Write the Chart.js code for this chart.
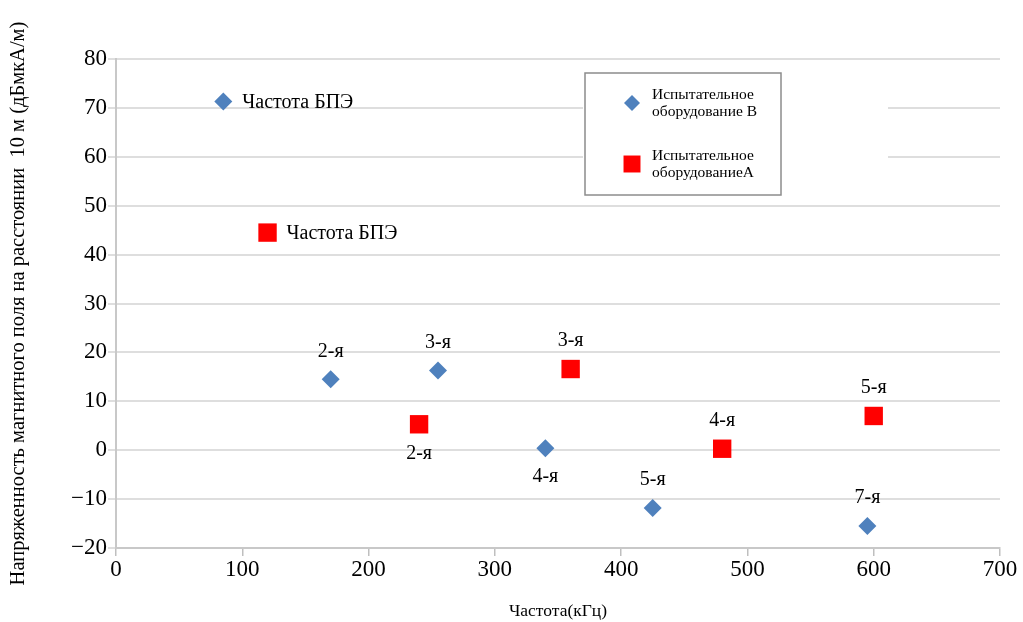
<!DOCTYPE html>
<html>
<head>
<meta charset="utf-8">
<script src="https://cdn.jsdelivr.net/npm/chart.js@4"></script>
<style>
  html, body { margin: 0; padding: 0; background: #fff; }
  #wrap { width: 1023px; height: 622px; }
</style>
</head>
<body>
<div id="wrap"><canvas id="scatterChart"></canvas></div>
<script>
const FONT = "'Liberation Serif', 'Times New Roman', serif";

// series B (blue diamonds)
const freqB = [85, 170, 255, 340, 425, 595];
const fieldB = [71.3, 14.5, 16.3, 0.4, -11.8, -15.5];
const notesB = ["Частота БПЭ", "2-я", "3-я", "4-я", "5-я", "7-я"];
const placeB = ["right", "above", "above", "below", "above", "above"];

// series A (red squares)
const freqA = [120, 240, 360, 480, 600];
const fieldA = [44.5, 5.3, 16.6, 0.3, 7.0];
const notesA = ["Частота БПЭ", "2-я", "3-я", "4-я", "5-я"];
const placeA = ["right", "below", "above", "above", "above"];

const legendNames = ["Испытательное\nоборудование B", "Испытательное\nоборудованиеA"];
const xTicks = [0, 100, 200, 300, 400, 500, 600, 700];
const yTicks = [-20, -10, 0, 10, 20, 30, 40, 50, 60, 70, 80];

const BLUE = "#4f81bd";
const RED = "#ff0000";

const toPoints = (xs, ys) => xs.map((x, i) => ({ x: x, y: ys[i] }));

// text next to the points
const pointNotes = {
	id: "pointNotes",
	afterDatasetsDraw(chart) {
		const ctx = chart.ctx;
		const sets = [[notesB, placeB], [notesA, placeA]];
		ctx.save();
		ctx.fillStyle = "#000";
		ctx.font = "20px " + FONT;
		chart.data.datasets.forEach((ds, di) => {
			const meta = chart.getDatasetMeta(di);
			const [notes, place] = sets[di];
			meta.data.forEach((pt, i) => {
				if (place[i] === "right") {
					ctx.textAlign = "left";
					ctx.textBaseline = "middle";
					ctx.fillText(notes[i], pt.x + 19, pt.y + 1);
				} else {
					ctx.textAlign = "center";
					ctx.textBaseline = "middle";
					const dy = place[i] === "above" ? -28 : 29;
					ctx.fillText(notes[i], pt.x, pt.y + dy);
				}
			});
		});
		ctx.restore();
	},
};

// boxed legend inside the plot
const boxLegend = {
	id: "boxLegend",
	afterDraw(chart) {
		const ctx = chart.ctx;
		const a = chart.chartArea;
		const bx = a.left + 469, by = a.top + 14, bw = 196, bh = 122;
		ctx.save();
		ctx.fillStyle = "#fff";
		ctx.fillRect(bx - 2, by, 305, bh + 2);
		ctx.strokeStyle = "#8c8c8c";
		ctx.lineWidth = 1.5;
		ctx.strokeRect(bx, by, bw, bh);
		const rows = [
			{ y: by + 30, color: BLUE, style: "rectRot", r: 8 },
			{ y: by + 91, color: RED, style: "rect", r: 12 },
		];
		ctx.font = "15.5px " + FONT;
		ctx.textAlign = "left";
		ctx.textBaseline = "middle";
		rows.forEach((row, i) => {
			ctx.fillStyle = row.color;
			Chart.helpers.drawPoint(ctx, { pointStyle: row.style, radius: row.r, borderWidth: 0 }, bx + 47, row.y);
			ctx.fillStyle = "#000";
			const lines = legendNames[i].split("\n");
			ctx.fillText(lines[0], bx + 67, row.y - 8);
			ctx.fillText(lines[1], bx + 67, row.y + 9);
		});
		ctx.restore();
	},
};

const ctx = document.getElementById("scatterChart").getContext("2d");

const scatterChart = new Chart(ctx, {
	type: "scatter",
	data: {
		datasets: [
			{
				label: "B",
				data: toPoints(freqB, fieldB),
				pointStyle: "rectRot",
				pointRadius: 9,
				pointHoverRadius: 9,
				backgroundColor: BLUE,
				borderColor: BLUE,
				borderWidth: 0,
			},
			{
				label: "A",
				data: toPoints(freqA, fieldA),
				pointStyle: "rect",
				pointRadius: 13,
				pointHoverRadius: 13,
				backgroundColor: RED,
				borderColor: RED,
				borderWidth: 0,
			},
		],
	},
	options: {
		responsive: true,
		maintainAspectRatio: false,
		animation: false,
		layout: { padding: { top: 59, right: 23, left: 0, bottom: 0 } },
		plugins: {
			legend: { display: false },
			tooltip: { enabled: false },
		},
		scales: {
			x: {
				type: "linear",
				min: 0,
				max: 700,
				afterBuildTicks: (s) => { s.ticks = xTicks.map((v) => ({ value: v })); },
				afterFit: (s) => { s.height = 74; },
				grid: { drawOnChartArea: false, drawTicks: true, tickLength: 8, color: "#bfbfbf", lineWidth: 1.5 },
				border: { color: "#c8c8c8", width: 2 },
				ticks: { color: "#000", font: { family: FONT, size: 23 }, padding: 0, maxRotation: 0 },
				title: { display: true, text: "Частота(кГц)", color: "#000", font: { family: FONT, size: 17.5 }, padding: { top: 6, bottom: 0 } },
			},
			y: {
				type: "linear",
				min: -20,
				max: 80,
				afterBuildTicks: (s) => { s.ticks = yTicks.map((v) => ({ value: v })); },
				afterFit: (s) => { s.width = 116; },
				grid: { color: "#dedede", lineWidth: 2, drawTicks: true, tickLength: 8 },
				border: { color: "#c8c8c8", width: 2 },
				ticks: {
					color: "#000",
					font: { family: FONT, size: 23 },
					padding: 1,
					callback: (v) => (v < 0 ? "\u2212" + Math.abs(v) : String(v)),
				},
				title: { display: true, text: "Напряженность магнитного поля на расстоянии  10 м (дБмкА/м)", color: "#000", font: { family: FONT, size: 20.5 }, padding: { top: 6, bottom: 0 } },
			},
		},
	},
	plugins: [pointNotes, boxLegend],
});
</script>
</body>
</html>
